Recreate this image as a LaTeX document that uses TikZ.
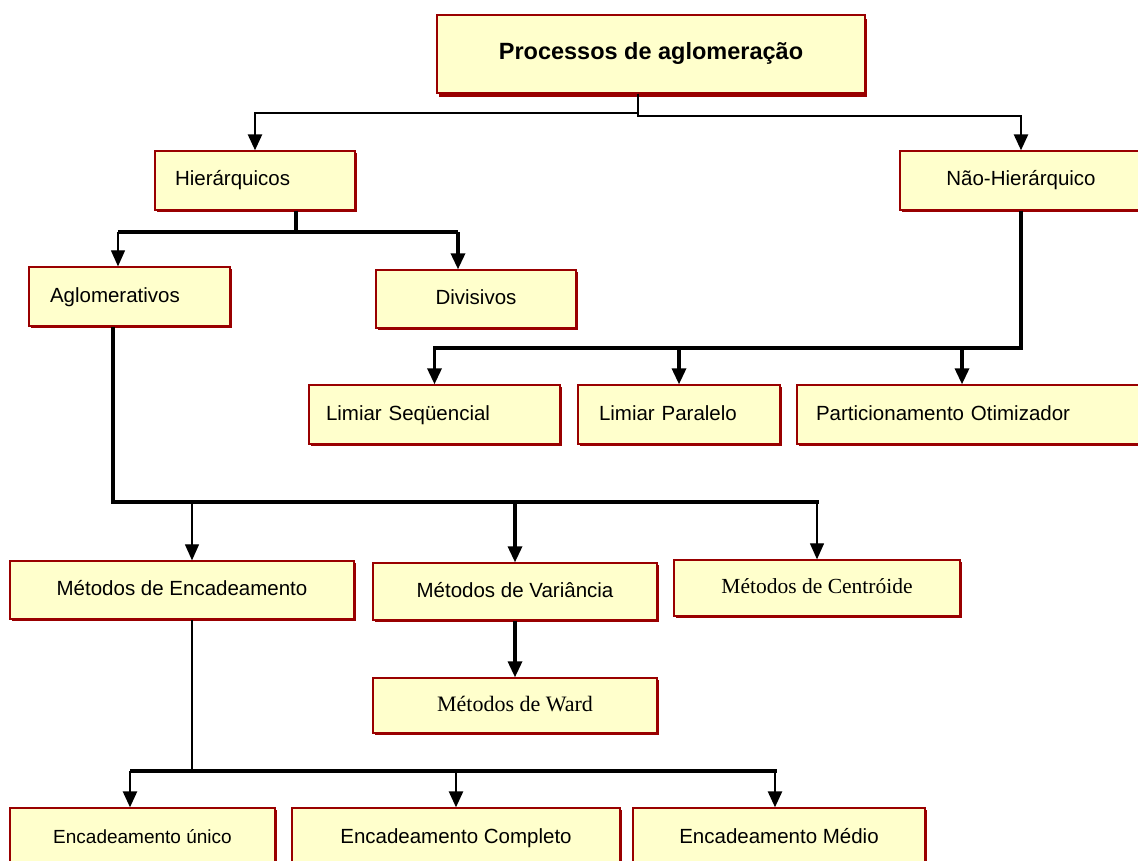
\documentclass[tikz,border=0pt]{standalone}
\usepackage{fontspec}
\setmainfont{Liberation Sans}
\newfontfamily\tnr{Liberation Serif}
\usetikzlibrary{arrows.meta,shadows}
\definecolor{boxred}{HTML}{990000}
\definecolor{boxfill}{HTML}{FFFFCC}
\tikzset{
  basebox/.style={draw=boxred, fill=boxfill, line width=1.3pt, inner ysep=0pt,
    text height=15pt, text depth=4pt, font=\fontsize{20.5}{24}\selectfont},
  box/.style={basebox, drop shadow={shadow xshift=1.5pt, shadow yshift=-2.2pt, fill=boxred, opacity=1}},
  lbox/.style={box, align=left},
  arr/.style={-{Triangle[width=14pt,length=16pt]}},
  thk/.style={line width=3.3pt},
  med/.style={line width=2.5pt},
  thn/.style={line width=1.1pt},
}
\begin{document}
\begin{tikzpicture}[x=1pt,y=-1pt]
\useasboundingbox (0,0) rectangle (1138,861);
\fill[white] (0,0) rectangle (1138,861);

% boxes
\node[basebox, font=\bfseries\fontsize{23.5}{28}\selectfont, minimum width=428pt, minimum height=78pt,
  drop shadow={shadow xshift=1.5pt, shadow yshift=-4pt, fill=boxred, opacity=1}] (P) at (651,54) {Processos de aglomeração};
\node[lbox, text width=160pt, inner xsep=20pt, minimum height=59pt] (H) at (255,180.5) {Hierárquicos};
\node[box, minimum width=242pt, minimum height=59pt] (N) at (1021,180.5) {Não-Hierárquico};
\node[lbox, text width=159pt, inner xsep=21pt, minimum height=59pt] (A) at (129.5,296.5) {Aglomerativos};
\node[box, minimum width=200pt, minimum height=58pt] (D) at (476,299) {Divisivos};
\node[lbox, text width=217pt, inner xsep=17pt, minimum height=59pt] (LS) at (434.5,414.5) {Limiar Seqüencial};
\node[lbox, text width=160pt, inner xsep=21pt, minimum height=59pt] (LP) at (679,414.5) {Limiar Paralelo};
\node[lbox, text width=307pt, inner xsep=19pt, minimum height=59pt] (PO) at (969.5,414.5) {Particionamento Otimizador};
\node[box, minimum width=344pt, minimum height=58pt] (ME) at (182,590) {Métodos de Encadeamento};
\node[box, minimum width=284pt, minimum height=57pt] (MV) at (515,591.5) {Métodos de Variância};
\node[box, minimum width=286pt, minimum height=56pt, font=\tnr\fontsize{21.5}{26}\selectfont] (MC) at (817,588) {Métodos de Centróide};
\node[box, minimum width=284pt, minimum height=55pt, font=\tnr\fontsize{22}{26}\selectfont] (MW) at (515,705.5) {Métodos de Ward};
\node[box, minimum width=265pt, minimum height=60pt, font=\fontsize{19}{23}\selectfont] (EU) at (142.5,838) {Encadeamento único};
\node[box, minimum width=328pt, minimum height=60pt] (EC) at (456,838) {Encadeamento Completo};
\node[box, minimum width=292pt, minimum height=60pt] (EM) at (779,838) {Encadeamento Médio};

% bus levels
\coordinate (busP) at (0,113);
\coordinate (busP2) at (0,116);
\coordinate (busH) at (0,232);
\coordinate (busN) at (0,348);
\coordinate (busA) at (0,502);
\coordinate (busE) at (0,771);

% Processos
\coordinate (ps) at ([xshift=-13pt]P.south);
\draw[med,arr] (ps) |- (busP -| H.north) -- (H.north);
\draw[med,arr] (ps) |- (busP2 -| N.north) -- (N.north);

% Hierarquicos
\coordinate (hs) at ([xshift=41pt]H.south);
\coordinate (at) at ([xshift=-11.5pt]A.north);
\coordinate (dt) at ([xshift=-18pt]D.north);
\draw[thk] (hs) -- (hs |- busH);
\draw[thk] (at |- busH) -- (dt |- busH);
\draw[thn,arr] (at |- busH) -- (at);
\draw[thk,arr] (dt |- busH) -- (dt);

% Nao-Hierarquico
\coordinate (pot) at ([xshift=-7.5pt]PO.north);
\draw[thk,arr] (N.south) |- (busN -| LS.north) -- (LS.north);
\draw[thk,arr] (LP.north |- busN) -- (LP.north);
\draw[thk,arr] (pot |- busN) -- (pot);

% Aglomerativos
\coordinate (as) at ([xshift=-16.5pt]A.south);
\coordinate (met) at ([xshift=10pt]ME.north);
\draw[thk] (as) |- ([xshift=2pt]MC.north |- busA);
\draw[thn,arr] (met |- busA) -- (met);
\draw[thk,arr] (MV.north |- busA) -- (MV.north);
\draw[thn,arr] (MC.north |- busA) -- (MC.north);
\draw[thk,arr] (MV.south) -- (MW.north);

% Encadeamento
\coordinate (mes) at ([xshift=10pt]ME.south);
\coordinate (eut) at ([xshift=-12.5pt]EU.north);
\coordinate (emt) at ([xshift=-4pt]EM.north);
\draw[thn] (mes) -- (mes |- busE);
\draw[thk] (eut |- busE) -- ([xshift=2pt]emt |- busE);
\draw[med,arr] (eut |- busE) -- (eut);
\draw[med,arr] (EC.north |- busE) -- (EC.north);
\draw[med,arr] (emt |- busE) -- (emt);
\end{tikzpicture}
\end{document}
